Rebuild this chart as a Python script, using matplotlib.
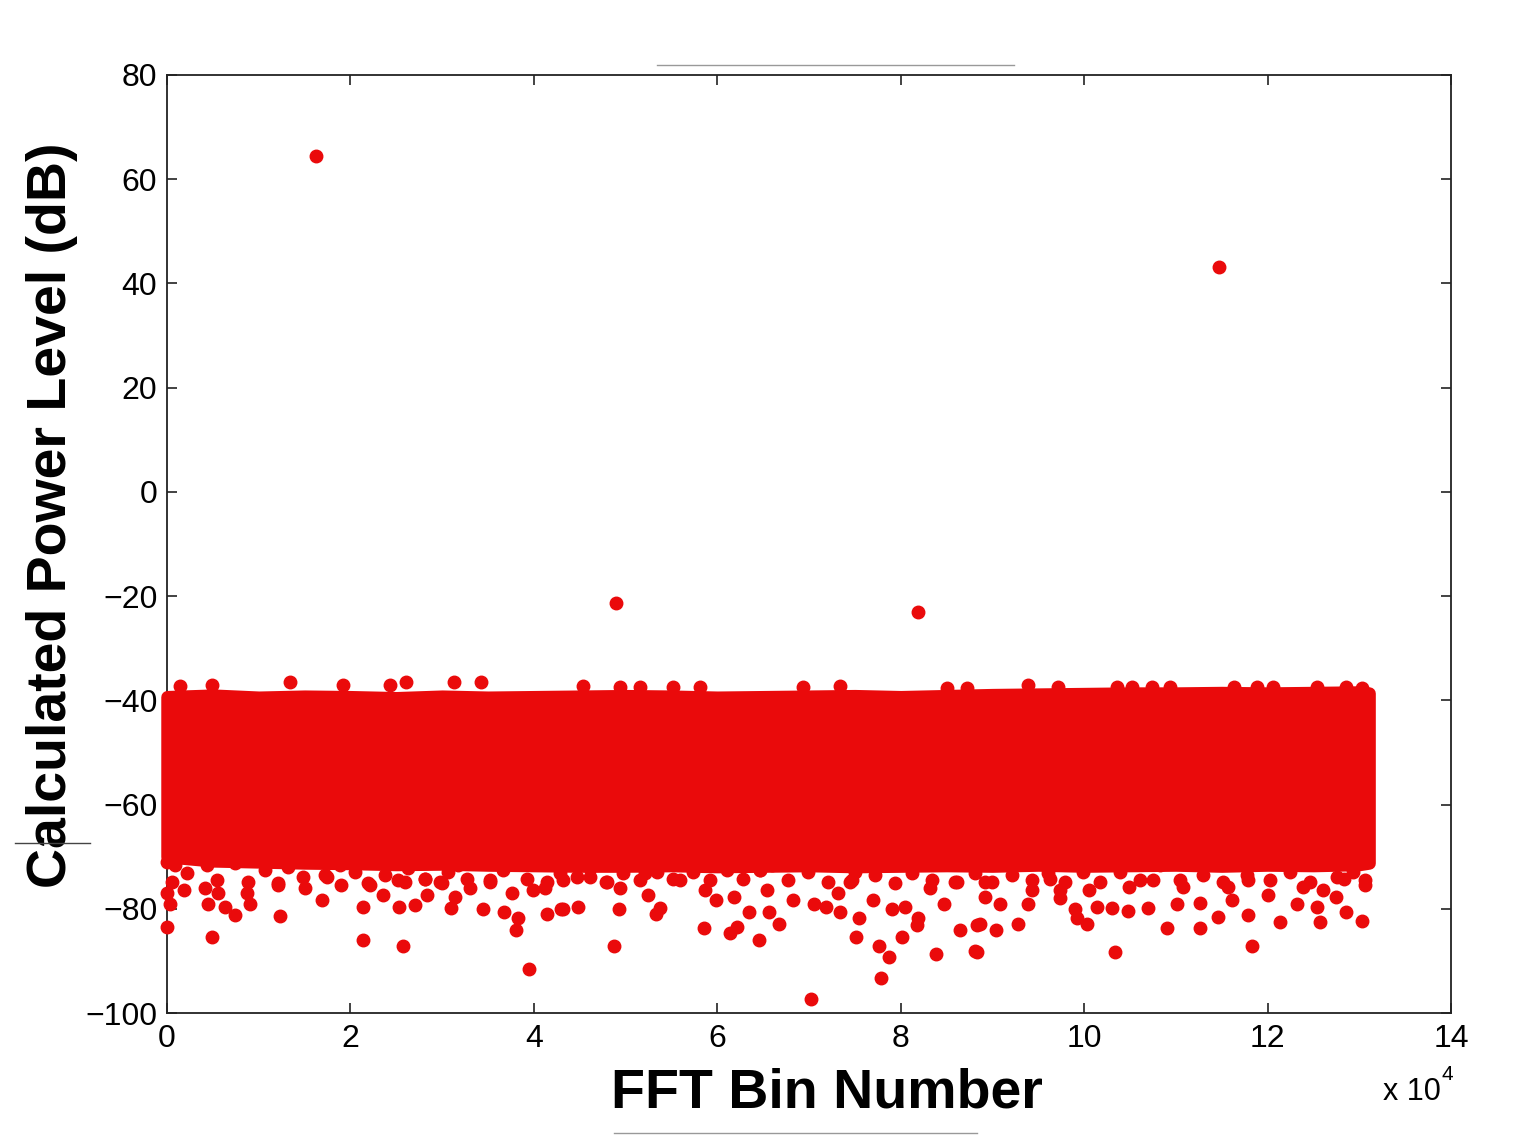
import matplotlib.pyplot as plt
from matplotlib.lines import Line2D
from matplotlib.ticker import FuncFormatter

plt.rcParams['font.family'] = ['Liberation Sans', 'DejaVu Sans']

red = '#EA0A0B'

# isolated peaks (bin, dB)
peak_bins = [16250, 114700, 48960, 81890]
peak_db = [64.4, 43.1, -21.3, -23.0]

# dense noise floor, read as an envelope of dot centres
band_bins = [0, 5000, 10000, 15000, 20000, 25000, 30000, 35000, 40000, 45000,
             50000, 55000, 60000, 65000, 70000, 75000, 80000, 85000, 90000,
             95000, 100000, 105000, 110000, 115000, 120000, 125000, 130000, 131072]
band_top = [-39.3, -39.0, -39.4, -39.2, -39.3, -39.5, -39.2, -39.4, -39.3, -39.2,
            -39.1, -39.2, -39.4, -39.3, -39.2, -39.1, -39.3, -39.1, -38.9,
            -38.8, -38.7, -38.6, -38.6, -38.5, -38.6, -38.5, -38.4, -38.6]
band_bottom = [-70.0, -70.8, -71.0, -71.2, -71.3, -71.5, -71.4, -71.6, -71.7, -71.8,
               -71.8, -71.7, -71.9, -71.8, -71.7, -71.9, -71.8, -71.7, -71.8,
               -71.6, -71.8, -71.7, -71.6, -71.8, -71.6, -71.7, -71.5, -71.2]

# dots poking above the band
top_bins = [1400, 4900, 13400, 19200, 24300, 26100, 31300, 34200, 45400, 49400,
            51600, 55200, 58100, 69400, 73400, 85000, 87200, 93900, 97200, 103600,
            105200, 107400, 109400, 116300, 118800, 120600, 125400, 128600, 130300]
top_db = [-37.3, -37.0, -36.5, -37.0, -37.0, -36.5, -36.5, -36.5, -37.2, -37.5,
          -37.5, -37.4, -37.5, -37.5, -37.2, -37.6, -37.6, -37.0, -37.4, -37.4,
          -37.4, -37.4, -37.4, -37.4, -37.4, -37.4, -37.4, -37.4, -37.6]

# ragged fringe just under the band
fringe_bins = [870, 2150, 4330, 5420, 7410, 8870, 10690, 12140, 13230, 14860,
               17230, 18860, 20500, 21950, 23770, 25220, 26310, 28130, 29770, 30670,
               31760, 32680, 35220, 36670, 39220, 41400, 42850, 44670, 46120, 47940,
               49760, 51580, 53400, 55210, 57390, 59210, 61030, 62840, 64660, 65940,
               67750, 69930, 72110, 74660, 75210, 77200, 79380, 81200, 83380, 85920,
               88100, 89920, 92110, 94290, 96100, 97920, 99920, 101730, 103910, 106100,
               108280, 110460, 113000, 115180, 117730, 120270, 122450, 124630, 127540, 129360,
               130630]
fringe_db = [-71.6, -73.2, -71.6, -74.5, -71.3, -74.8, -72.6, -75.1, -71.9, -73.8,
             -73.5, -71.6, -72.9, -75.1, -73.5, -74.5, -72.2, -74.2, -74.8, -72.9,
             -71.6, -74.2, -74.5, -72.6, -74.2, -74.8, -73.2, -73.8, -72.2, -74.8,
             -73.2, -74.5, -72.9, -74.2, -72.9, -74.5, -72.6, -74.2, -72.6, -71.6,
             -74.5, -72.9, -74.8, -74.5, -71.0, -73.5, -75.1, -73.2, -74.5, -74.8,
             -73.2, -74.8, -73.5, -74.5, -73.2, -74.8, -72.9, -74.8, -72.9, -74.5,
             -71.6, -74.5, -73.5, -74.8, -73.5, -74.5, -72.9, -74.8, -73.8, -72.9,
             -74.5]

# scattered low outliers below the band
low_bins = [0, 4870, 21400, 25700, 39500, 12300, 16900, 21400, 25300, 34500,
            36700, 38300, 38100, 41400, 43000, 4500, 330, 7400, 6300, 9050,
            8700, 5600, 4150, 1800, 500, 0, 15000, 12100, 19000, 22100,
            23600, 27000, 28300, 30000, 31000, 31400, 33000, 35200, 37600, 39900,
            28100, 26000, 17400, 0, 41200,
            48700, 70200, 77900, 78700, 77600, 83900, 80100, 75100, 88100, 86500,
            88300, 64500, 61400, 62100, 58600, 66700, 43200, 44800, 49300, 53300,
            53700, 59900, 63500, 65600, 70600, 71900, 73400, 75400, 80500, 81900,
            81800, 84700, 49400, 52500, 47900, 55900, 61800, 68300, 74500, 77000,
            79000, 83200, 86100, 75000, 58700, 65400, 73200, 43200, 46100, 52100,
            64700,
            88300, 103400, 118300, 88600, 90400, 92800, 100300, 99200, 109000, 112600,
            114600, 117900, 121400, 125700, 128600, 130300, 89200, 90800, 93900, 97400,
            99000, 101400, 103000, 104800, 107000, 110100, 112600, 116100, 120000, 123200,
            125400, 127500, 130600, 89200, 94300, 97400, 100500, 104900, 110800, 115700,
            117900, 123900, 126100, 128300, 96300, 107500]
low_db = [-83.4, -85.4, -85.9, -87.1, -91.6, -81.3, -78.3, -79.6, -79.6, -80.1,
          -80.7, -81.8, -84.1, -80.9, -80.1, -79.0, -79.0, -81.2, -79.6, -79.0,
          -77.0, -77.0, -76.1, -76.4, -74.8, -77.0, -76.1, -75.4, -75.4, -75.4,
          -77.4, -79.3, -77.4, -75.0, -79.9, -77.8, -76.1, -74.8, -77.0, -76.3,
          -74.2, -74.8, -73.8, -71.0, -76.1,
          -87.1, -97.4, -93.3, -89.3, -87.1, -88.7, -85.4, -85.4, -88.1, -84.1,
          -83.1, -85.9, -84.7, -83.4, -83.6, -83.0, -80.1, -79.6, -80.1, -80.9,
          -79.9, -78.3, -80.7, -80.7, -79.0, -79.6, -80.7, -81.8, -79.6, -81.8,
          -83.1, -79.0, -76.1, -77.4, -74.8, -74.5, -77.7, -78.3, -74.8, -78.3,
          -80.1, -76.1, -74.8, -73.0, -76.4, -76.4, -77.0, -74.5, -73.8, -73.2,
          -72.5,
          -88.2, -88.2, -87.1, -83.0, -84.1, -83.0, -83.0, -81.8, -83.6, -83.6,
          -81.5, -81.2, -82.5, -82.5, -80.7, -82.3, -77.8, -79.0, -79.0, -78.0,
          -80.1, -79.6, -79.9, -80.4, -79.9, -79.0, -78.8, -78.3, -77.4, -79.0,
          -79.6, -77.8, -75.4, -74.8, -76.4, -76.4, -76.4, -75.8, -75.8, -75.8,
          -74.4, -75.8, -76.4, -74.2, -74.2, -74.5]

fig = plt.figure(figsize=(15.38, 11.38), dpi=100)
ax = fig.add_axes([0.1086, 0.1098, 0.8348, 0.8243])

ax.fill_between(band_bins, band_bottom, band_top, color=red, lw=9,
                joinstyle='round', zorder=2, clip_on=False)
for xs, ys in [(top_bins, top_db), (fringe_bins, fringe_db), (low_bins, low_db), (peak_bins, peak_db)]:
  ax.plot(xs, ys, 'o', color=red, ms=9, mec=red, zorder=3, clip_on=False)

ax.set_xlim(0, 140000)
ax.set_ylim(-100, 80)
ax.set_xticks(range(0, 140001, 20000))
ax.set_yticks(range(-100, 81, 20))
ax.xaxis.set_major_formatter(FuncFormatter(lambda v, p: f"{v/1e4:g}"))
ax.tick_params(direction='in', length=7, width=1.2, labelsize=23,
               top=True, right=True, colors='#222222', labelcolor='black')
ax.tick_params(axis='x', pad=8)
ax.tick_params(axis='y', pad=7)
for s in ax.spines.values():
  s.set_linewidth(1.3)
  s.set_color('#222222')
  s.set_zorder(1)

ax.set_xlabel('FFT Bin Number', fontsize=40, fontweight='bold')
ax.xaxis.set_label_coords(0.514, -0.058)
ax.set_ylabel('Calculated Power Level (dB)', fontsize=40, fontweight='bold')
ax.yaxis.set_label_coords(-0.069, 0.531)

# exponent note under the axis
fig.text(0.899, 0.033, 'x 10', fontsize=22)
fig.text(0.937, 0.051, '4', fontsize=15)

# stray slide lines around the figure
fig.add_artist(Line2D([657/1538, 1014/1538], [1 - 65/1138, 1 - 65/1138], color='#999999', lw=1))
fig.add_artist(Line2D([614/1538, 977/1538], [1 - 1133/1138, 1 - 1133/1138], color='#999999', lw=1))
fig.add_artist(Line2D([15/1538, 90/1538], [1 - 843/1138, 1 - 843/1138], color='#444444', lw=1))

fig.savefig('out.png', dpi=100)
